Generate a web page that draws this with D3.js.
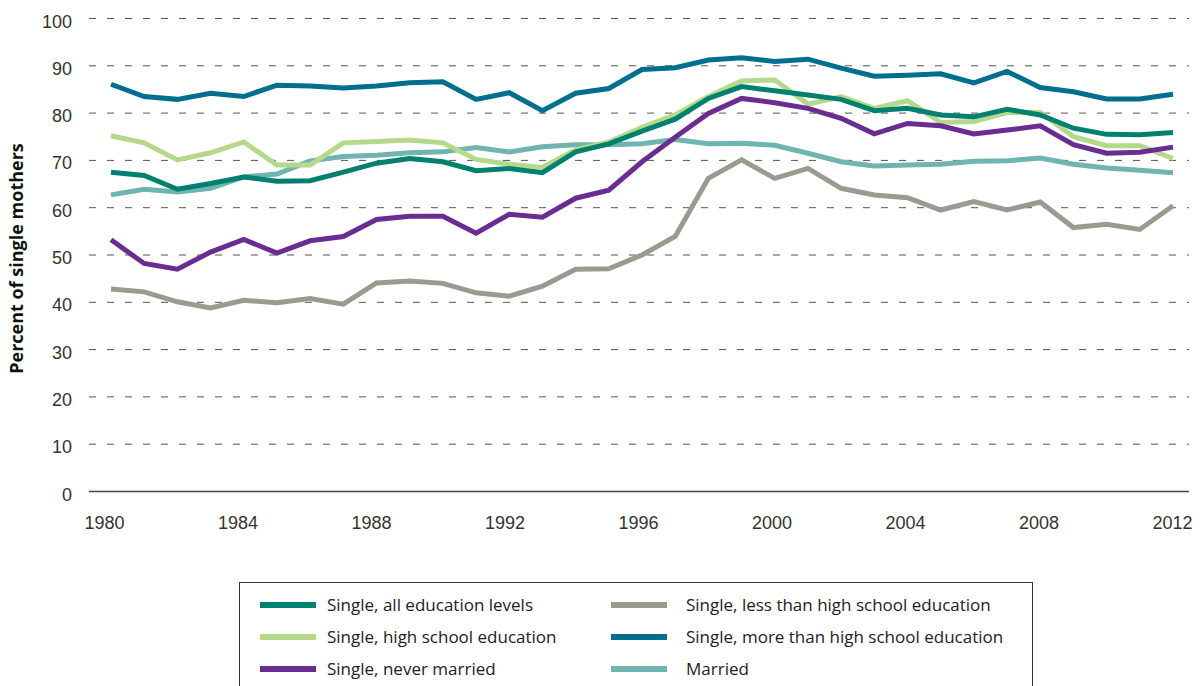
<!DOCTYPE html>
<html>
<head>
<meta charset="utf-8">
<script src="https://cdnjs.cloudflare.com/ajax/libs/d3/7.8.5/d3.min.js"></script>
<style>
  html, body { margin: 0; padding: 0; background: #fff; }
  svg { display: block; font-family: "Open Sans", "Noto Sans", sans-serif; }
</style>
</head>
<body>
<svg id="chart" width="1204" height="686"></svg>
<script>
// ---- data ----
const years = [1980,1981,1982,1983,1984,1985,1986,1987,1988,1989,1990,1991,1992,1993,1994,1995,1996,
               1997,1998,1999,2000,2001,2002,2003,2004,2005,2006,2007,2008,2009,2010,2011,2012];

const singleAll = [67.4,66.7,63.8,65.0,66.4,65.5,65.6,67.4,69.3,70.3,69.6,67.7,68.2,67.3,71.7,73.4,76.1,
                   78.6,83.0,85.5,84.6,83.7,82.8,80.4,80.9,79.5,79.1,80.7,79.5,76.7,75.4,75.3,75.8];
const singleHS = [75.1,73.6,70.0,71.5,73.8,68.9,68.9,73.6,73.9,74.2,73.6,70.1,69.1,68.4,72.1,73.8,76.9,
                  79.5,83.4,86.7,86.9,81.8,83.4,80.9,82.5,77.9,78.1,80.0,80.0,74.9,73.0,73.0,70.3];
const singleNever = [53.1,48.1,46.9,50.5,53.2,50.3,52.9,53.8,57.4,58.1,58.1,54.5,58.5,57.9,61.9,63.6,69.6,
                     74.8,79.8,83.0,82.1,80.9,78.8,75.5,77.7,77.2,75.5,76.3,77.2,73.2,71.4,71.6,72.7];
const singleLessHS = [42.7,42.1,40.0,38.7,40.3,39.8,40.7,39.5,44.0,44.4,43.9,41.9,41.2,43.3,46.9,47.0,49.9,
                      53.8,66.1,70.0,66.1,68.2,64.0,62.6,62.0,59.4,61.2,59.4,61.1,55.7,56.4,55.3,60.3];
const singleMoreHS = [86.0,83.4,82.8,84.1,83.4,85.8,85.6,85.2,85.6,86.3,86.5,82.8,84.2,80.4,84.1,85.1,89.1,
                      89.5,91.1,91.6,90.8,91.3,89.4,87.7,87.9,88.2,86.3,88.7,85.3,84.4,82.9,82.9,83.9];
const married = [62.6,63.8,63.2,64.0,66.4,67.0,69.8,70.7,71.0,71.5,71.7,72.6,71.7,72.8,73.2,73.2,73.4,
                 74.3,73.4,73.5,73.1,71.4,69.6,68.7,68.9,69.1,69.7,69.8,70.4,69.1,68.3,67.8,67.3];

const seriesNames = ["Single, all education levels", "Single, high school education", "Single, never married",
                     "Single, less than high school education", "Single, more than high school education", "Married"];
const seriesColors = ["#00806f", "#b4d98b", "#6a2c91", "#9a9b90", "#006f8f", "#6eb4b0"];

const yTicks = [0,10,20,30,40,50,60,70,80,90,100];
const xTicks = [1980,1984,1988,1992,1996,2000,2004,2008,2012];
const yTitle = "Percent of single mothers";

// ---- build ----
const seriesValues = [singleAll, singleHS, singleNever, singleLessHS, singleMoreHS, married];
const series = seriesNames.map((n, i) => ({ name: n, color: seriesColors[i], values: seriesValues[i] }));

const svg = d3.select("#chart");
const gridLeft = 89, gridRight = 1189;

const x = d3.scaleLinear().domain([1980, 2012]).range([111, 1173]);
const xLab = d3.scaleLinear().domain([1980, 2012]).range([104, 1172]);
const y = d3.scaleLinear().domain([0, 100]).range([491, 18]);

// y axis + grid
const yAxis = svg.append("g")
  .attr("transform", `translate(${gridLeft},0)`)
  .call(d3.axisLeft(y).tickValues(yTicks).tickSize(-(gridRight - gridLeft)).tickPadding(17));
yAxis.select(".domain").remove();
yAxis.selectAll(".tick line")
  .attr("stroke", d => d === 0 ? "#444" : "#555")
  .attr("stroke-width", d => d === 0 ? 1.6 : 1)
  .attr("stroke-dasharray", d => d === 0 ? null : "7,11");
yAxis.selectAll(".tick text")
  .attr("fill", "#333").attr("font-size", 18).attr("dy", "0.5em");

// x axis labels
const xAxis = svg.append("g")
  .attr("transform", `translate(0,${y(0)})`)
  .call(d3.axisBottom(xLab).tickValues(xTicks).tickSize(0).tickPadding(25).tickFormat(d3.format("d")));
xAxis.select(".domain").remove();
xAxis.selectAll(".tick text").attr("fill", "#333").attr("font-size", 18);

// y title
svg.append("text")
  .attr("transform", `translate(23,${(y(0) + y(100)) / 2 + 4}) rotate(-90)`)
  .attr("text-anchor", "middle")
  .attr("font-size", 18).attr("font-weight", 700).attr("fill", "#111")
  .text(yTitle);

// lines
const line = d3.line().x((d, i) => x(years[i])).y(d => y(d));
const drawOrder = [5, 3, 1, 2, 0, 4];
svg.append("g").selectAll("path")
  .data(drawOrder.map(i => series[i]))
  .join("path")
  .attr("d", d => line(d.values))
  .attr("fill", "none")
  .attr("stroke", d => d.color)
  .attr("stroke-width", 5)
  .attr("stroke-linejoin", "miter");

// legend
const lg = svg.append("g");
lg.append("rect").attr("x", 239.5).attr("y", 582.5).attr("width", 793).attr("height", 140)
  .attr("fill", "none").attr("stroke", "#333").attr("stroke-width", 1);
const colX = [260, 611], textX = [327, 686], rowY = [605, 637, 669];
series.forEach((s, i) => {
  const c = Math.floor(i / 3), r = i % 3;
  lg.append("line")
    .attr("x1", colX[c]).attr("x2", colX[c] + 56)
    .attr("y1", rowY[r]).attr("y2", rowY[r])
    .attr("stroke", s.color).attr("stroke-width", 6);
  lg.append("text")
    .attr("x", textX[c]).attr("y", rowY[r]).attr("dy", "0.35em")
    .attr("font-size", 17).attr("fill", "#222")
    .text(s.name);
});
</script>
</body>
</html>
